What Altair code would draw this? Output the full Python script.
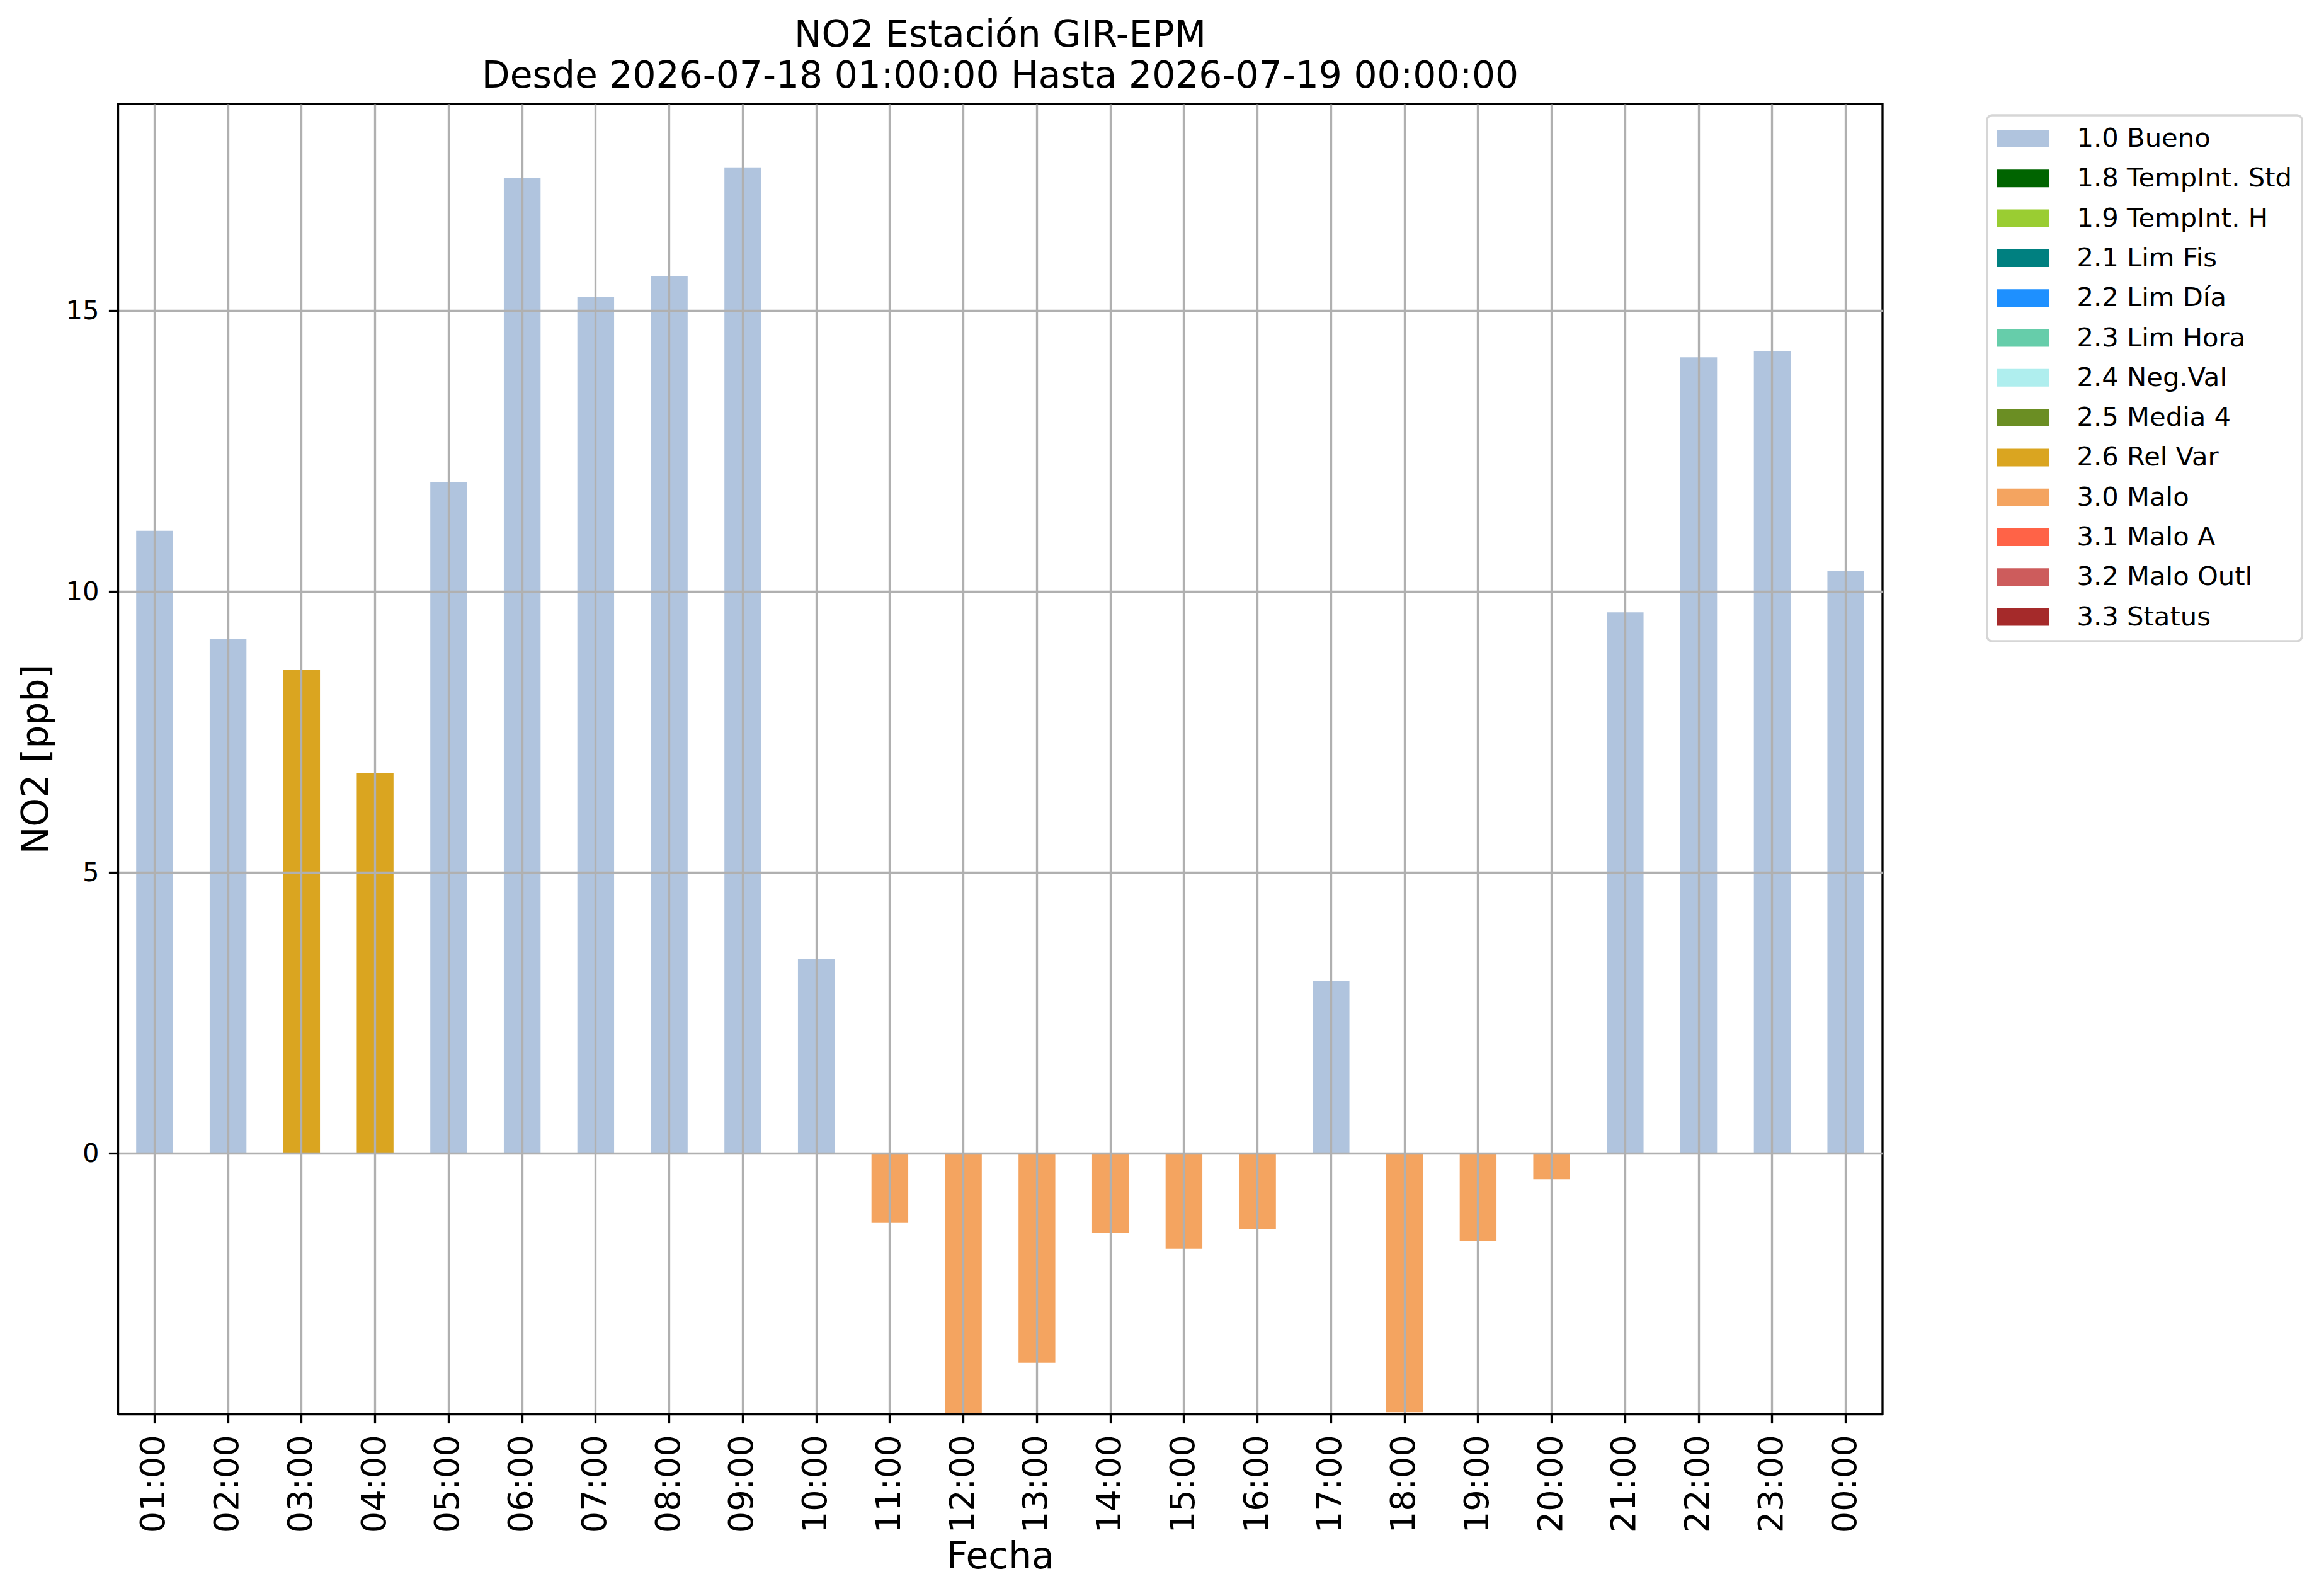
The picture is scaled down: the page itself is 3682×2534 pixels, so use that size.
import altair as alt
import pandas as pd

# hourly NO2 values
horas = ["01:00", "02:00", "03:00", "04:00", "05:00", "06:00", "07:00", "08:00",
         "09:00", "10:00", "11:00", "12:00", "13:00", "14:00", "15:00", "16:00",
         "17:00", "18:00", "19:00", "20:00", "21:00", "22:00", "23:00", "00:00"]
no2 = [11.08, 9.16, 8.61, 6.77, 11.95, 17.36, 15.25, 15.61,
       17.55, 3.46, -1.23, -5.0, -3.73, -1.42, -1.70, -1.35,
       3.07, -4.61, -1.56, -0.46, 9.63, 14.17, 14.28, 10.36]
flag = ["1.0 Bueno", "1.0 Bueno", "2.6 Rel Var", "2.6 Rel Var", "1.0 Bueno", "1.0 Bueno",
        "1.0 Bueno", "1.0 Bueno", "1.0 Bueno", "1.0 Bueno", "3.0 Malo", "3.0 Malo",
        "3.0 Malo", "3.0 Malo", "3.0 Malo", "3.0 Malo", "1.0 Bueno", "3.0 Malo",
        "3.0 Malo", "3.0 Malo", "1.0 Bueno", "1.0 Bueno", "1.0 Bueno", "1.0 Bueno"]

# quality flags and their colours (legend lists all of them)
flags = ["1.0 Bueno", "1.8 TempInt. Std", "1.9 TempInt. H", "2.1 Lim Fis", "2.2 Lim Día",
         "2.3 Lim Hora", "2.4 Neg.Val", "2.5 Media 4", "2.6 Rel Var", "3.0 Malo",
         "3.1 Malo A", "3.2 Malo Outl", "3.3 Status"]
colores = ["#b0c4de", "#006400", "#9acd32", "#008080", "#1e90ff",
           "#66cdaa", "#afeeee", "#6b8e23", "#daa520", "#f4a460",
           "#ff6347", "#cd5c5c", "#a52a2a"]

df = pd.DataFrame({"Fecha": horas, "NO2": no2, "Flag": flag})

font = "DejaVu Sans"

chart = alt.Chart(df).mark_bar(clip=True, opacity=1).encode(
    alt.X("Fecha:N")
        .scale(domain=horas, paddingInner=0.5, paddingOuter=0.25)
        .axis(title="Fecha", labelAngle=270, labelFontSize=54.2, labelPadding=18,
              titleFontSize=58.3, titlePadding=10, bandPosition=0.5, grid=True, zindex=1),
    alt.Y("NO2:Q")
        .scale(domain=[-4.64, 18.68], nice=False, zero=False)
        .axis(title="NO2 [ppb]", values=[0, 5, 10, 15], format="d", labelFontSize=41.7,
              labelPadding=15.4, titleFontSize=58.3, titlePadding=16.8, grid=True, zindex=1),
    alt.Color("Flag:N")
        .scale(domain=flags, range=colores)
        .legend(title=None, orient="none", legendX=2968, legendY=18,
                symbolType="M-1.976,-0.667H1.976V0.667H-1.976Z", symbolSize=1764,
                symbolStrokeWidth=0, symbolOffset=20.5, labelOffset=64,
                labelFontSize=41.7, labelFont=font, labelColor="black",
                rowPadding=20.3, padding=16, strokeColor="#d6d6d6",
                fillColor="white", cornerRadius=8, labelLimit=1000),
).properties(
    width=2802,
    height=2080,
    padding={"left": 20, "top": 19, "right": 2, "bottom": 10},
    title=alt.Title(
        text=["NO2 Estación GIR-EPM", "Desde 2026-07-18 01:00:00 Hasta 2026-07-19 00:00:00"],
        fontSize=58.3, lineHeight=64.5, font=font, fontWeight="normal",
        color="black", anchor="middle", frame="group", offset=14
    )
).configure_axis(
    domainColor="black", domainWidth=3.33,
    tickColor="black", tickWidth=3.33, tickSize=14.6,
    gridColor="#b0b0b0", gridWidth=3.33, gridOpacity=1,
    labelColor="black", titleColor="black",
    labelFont=font, titleFont=font, titleFontWeight="normal"
).configure_legend(
    strokeWidth=3.5
).configure_view(
    stroke="black", strokeWidth=3.33
)

chart.save("out.html", embed_options={"renderer": "svg", "actions": False})
